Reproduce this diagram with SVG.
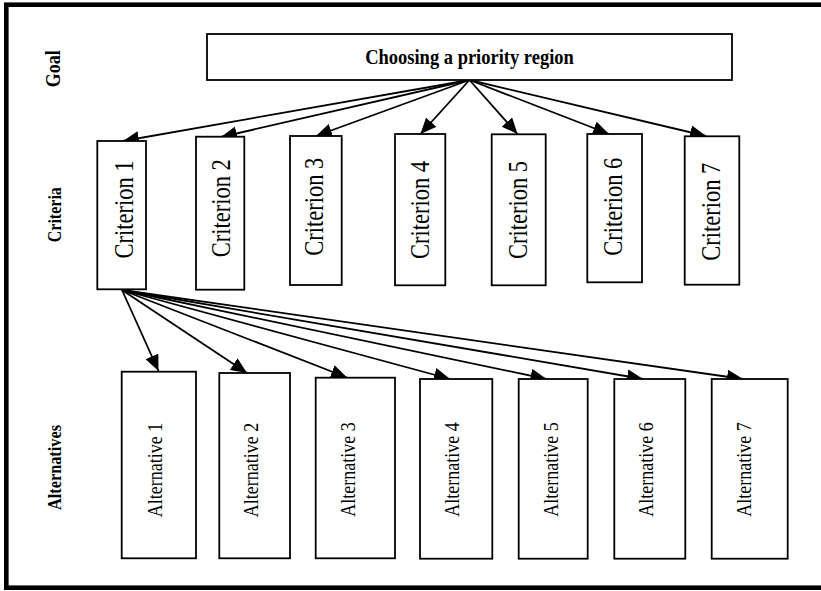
<svg xmlns="http://www.w3.org/2000/svg" width="821" height="591" viewBox="0 0 821 591">
<style>
.box{fill:#fff;stroke:#000;stroke-width:1.8}
.lbl{font-family:"Liberation Serif","Times New Roman",serif;font-weight:bold;text-anchor:middle;fill:#000}
.crit{font-family:"Liberation Serif","Times New Roman",serif;font-size:22.5px;text-anchor:middle;fill:#000}
.alt{font-family:"Liberation Serif","Times New Roman",serif;font-size:18px;text-anchor:middle;fill:#000}
.edge{stroke:#000;stroke-width:1.8;fill:none;marker-end:url(#ah)}
</style>
<defs>
<marker id="ah" markerUnits="userSpaceOnUse" markerWidth="17" markerHeight="15" refX="16" refY="7" orient="auto">
<path d="M0,0 L16,7 L0,14 Z" fill="#000"/>
</marker>
</defs>
<rect x="0" y="0" width="821" height="591" fill="#fff"/>
<rect x="6.3" y="4.7" width="830" height="583" fill="none" stroke="#000" stroke-width="4.6"/>

<g id="level-labels">
<text class="lbl" font-size="18" transform="translate(60,68.7) rotate(-90) scale(1,1.18)">Goal</text>
<text class="lbl" font-size="16" transform="translate(60.7,214.7) rotate(-90) scale(1,1.18)">Criteria</text>
<text class="lbl" font-size="16.3" transform="translate(60.7,467.5) rotate(-90) scale(1,1.18)">Alternatives</text>
</g>

<g id="connectors">
<line class="edge" x1="469.5" y1="80" x2="123" y2="141"/>
<line class="edge" x1="469.5" y1="80" x2="221" y2="137"/>
<line class="edge" x1="469.5" y1="80" x2="316" y2="136"/>
<line class="edge" x1="469.5" y1="80" x2="420.5" y2="134"/>
<line class="edge" x1="469.5" y1="80" x2="517.5" y2="134"/>
<line class="edge" x1="469.5" y1="80" x2="609" y2="134"/>
<line class="edge" x1="469.5" y1="80" x2="706" y2="136"/>
<line class="edge" x1="122" y1="290" x2="158.5" y2="371"/>
<line class="edge" x1="122" y1="290" x2="247" y2="373"/>
<line class="edge" x1="122" y1="290" x2="347" y2="377.5"/>
<line class="edge" x1="122" y1="290" x2="450" y2="379"/>
<line class="edge" x1="122" y1="290" x2="546.5" y2="379"/>
<line class="edge" x1="122" y1="290" x2="643" y2="379"/>
<line class="edge" x1="122" y1="290" x2="743" y2="379"/>
</g>

<g id="goal">
<rect class="box" x="207" y="34" width="525" height="46"/>
<text class="lbl" font-size="18.5" transform="translate(469.5,63.5) scale(1,1.18)">Choosing a priority region</text>
</g>

<g id="criterion-1"><rect class="box" x="97.3" y="141" width="48.7" height="148.3"/><text class="crit" transform="translate(132.7,209.5) rotate(-90) scale(1,1.2)">Criterion 1</text></g>
<g id="criterion-2"><rect class="box" x="196" y="136.7" width="48.3" height="153"/><text class="crit" transform="translate(230,208.3) rotate(-90) scale(1,1.2)">Criterion 2</text></g>
<g id="criterion-3"><rect class="box" x="290" y="136" width="51.7" height="149"/><text class="crit" transform="translate(323.3,206.7) rotate(-90) scale(1,1.2)">Criterion 3</text></g>
<g id="criterion-4"><rect class="box" x="395" y="134" width="50.3" height="151.3"/><text class="crit" transform="translate(429.3,210) rotate(-90) scale(1,1.2)">Criterion 4</text></g>
<g id="criterion-5"><rect class="box" x="491.7" y="134.3" width="54" height="151"/><text class="crit" transform="translate(526.7,210) rotate(-90) scale(1,1.2)">Criterion 5</text></g>
<g id="criterion-6"><rect class="box" x="587.3" y="134" width="54.7" height="148.3"/><text class="crit" transform="translate(621.7,206.7) rotate(-90) scale(1,1.2)">Criterion 6</text></g>
<g id="criterion-7"><rect class="box" x="684.7" y="136.3" width="54.6" height="148.4"/><text class="crit" transform="translate(720,211.7) rotate(-90) scale(1,1.2)">Criterion 7</text></g>

<g id="alternative-1"><rect class="box" x="121.7" y="371.7" width="74.3" height="186.6"/><text class="alt" font-size="16.5" transform="translate(162.3,470) rotate(-90) scale(1,1.18)">Alternative 1</text></g>
<g id="alternative-2"><rect class="box" x="219.3" y="373" width="70.7" height="185.3"/><text class="alt" font-size="16.5" transform="translate(257.7,470) rotate(-90) scale(1,1.18)">Alternative 2</text></g>
<g id="alternative-3"><rect class="box" x="315.7" y="377.7" width="79.3" height="180.6"/><text class="alt" transform="translate(355,469.5) rotate(-90) scale(1,1.18)">Alternative 3</text></g>
<g id="alternative-4"><rect class="box" x="420" y="379" width="72.3" height="179.7"/><text class="alt" transform="translate(459,469.5) rotate(-90) scale(1,1.18)">Alternative 4</text></g>
<g id="alternative-5"><rect class="box" x="518.7" y="379" width="69" height="179.7"/><text class="alt" transform="translate(558.3,469.5) rotate(-90) scale(1,1.18)">Alternative 5</text></g>
<g id="alternative-6"><rect class="box" x="614.3" y="379" width="71" height="179.7"/><text class="alt" transform="translate(653.3,469.5) rotate(-90) scale(1,1.18)">Alternative 6</text></g>
<g id="alternative-7"><rect class="box" x="711.7" y="379" width="76" height="179.7"/><text class="alt" transform="translate(750.7,469.5) rotate(-90) scale(1,1.18)">Alternative 7</text></g>
</svg>
